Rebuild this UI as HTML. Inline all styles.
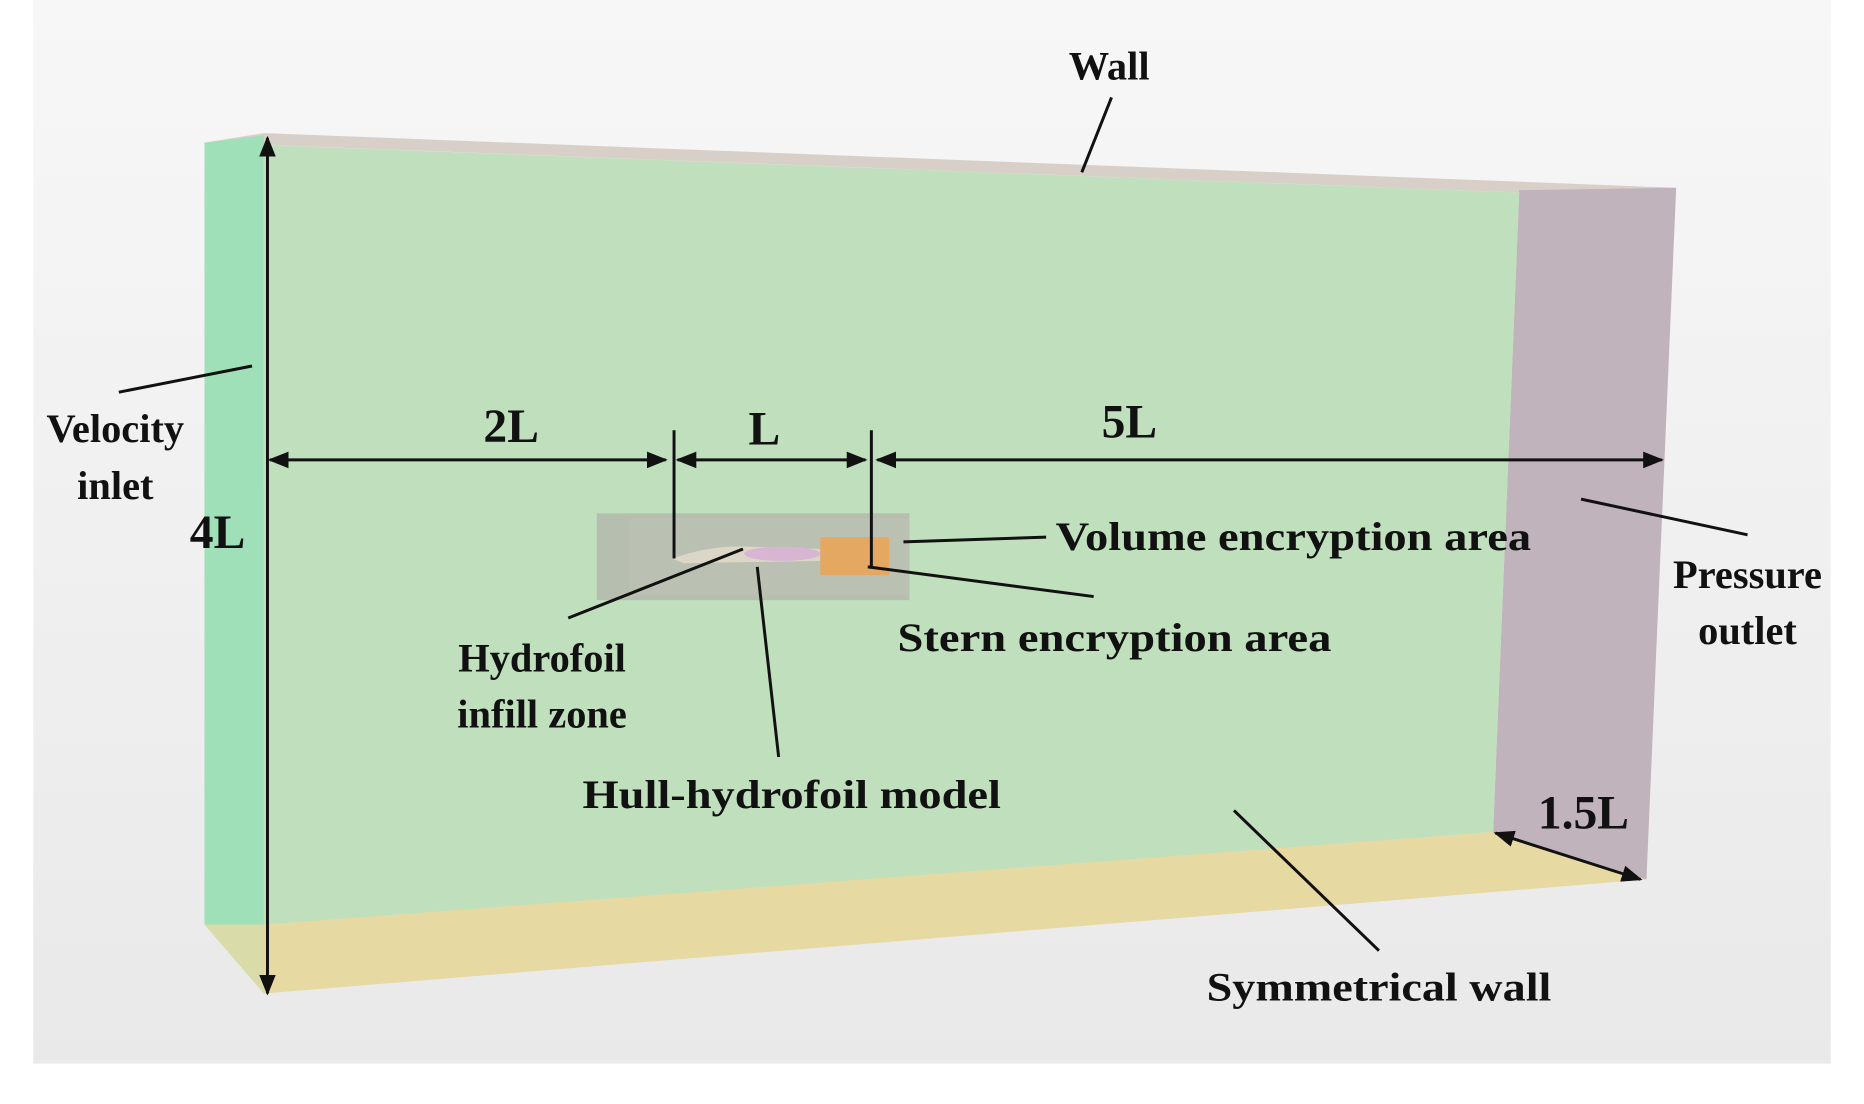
<!DOCTYPE html>
<html><head><meta charset="utf-8"><style>
html,body{margin:0;padding:0;background:#fff;}
svg{display:block;}
text{font-family:"Liberation Serif",serif;font-weight:bold;fill:#111;}
</style></head><body>
<svg width="1864" height="1104" viewBox="0 0 1568 929" preserveAspectRatio="none" xmlns="http://www.w3.org/2000/svg">
<defs>
<linearGradient id="bg" x1="0" y1="0" x2="0" y2="1">
<stop offset="0" stop-color="#f7f7f7"/><stop offset="1" stop-color="#e9e9e9"/>
</linearGradient>
<marker id="ar" viewBox="0 0 10 10" refX="9" refY="5" markerWidth="7" markerHeight="7" orient="auto-start-reverse">
<path d="M0,1 L10,5 L0,9 z" fill="#111"/>
</marker>
</defs>
<rect x="28" y="0" width="1512" height="895" fill="url(#bg)"/>
<!-- top wall -->
<polygon points="172,120 222,112 1410,158 1278,162" fill="#d8cfc8"/>
<!-- outlet -->
<polygon points="1278,160 1410,158 1385,740 1256,700" fill="#c0b3bc"/>
<!-- bottom -->
<polygon points="172,778 1256,700 1385,740 222,836" fill="#e6d9a2"/>
<!-- inlet -->
<polygon points="172,120 222,114 222,778 172,778" fill="#9fe0b9"/>
<polygon points="172,778 222,778 222,836 " fill="#d9dba8"/>
<!-- front -->
<polygon points="222,122 1278,162 1256,700 222,778" fill="#c0dfbd"/>
<!-- inner box -->
<rect x="502" y="432" width="263" height="73" fill="#b5beaf"/>
<rect x="530" y="436" width="235" height="65" fill="#bac1b2"/>
<path d="M565,470 Q600,458 630,460 L690,462 L690,472 L575,474 z" fill="#dcd6c6"/>
<ellipse cx="658" cy="466" rx="32" ry="6" fill="#d7b5d3"/>
<rect x="690" y="452" width="58" height="32" fill="#e5a862"/>
<!-- dimension lines -->
<g stroke="#111" stroke-width="2.5" fill="none">
<line x1="225" y1="116" x2="225" y2="836" marker-start="url(#ar)" marker-end="url(#ar)"/>
<line x1="227" y1="387" x2="560" y2="387" marker-start="url(#ar)" marker-end="url(#ar)"/>
<line x1="570" y1="387" x2="728" y2="387" marker-start="url(#ar)" marker-end="url(#ar)"/>
<line x1="738" y1="387" x2="1398" y2="387" marker-start="url(#ar)" marker-end="url(#ar)"/>
<line x1="567" y1="362" x2="567" y2="470"/>
<line x1="733" y1="362" x2="733" y2="478"/>
<line x1="1258" y1="701" x2="1380" y2="740" marker-start="url(#ar)" marker-end="url(#ar)"/>
<!-- leaders -->
<line x1="935" y1="82" x2="910" y2="145"/>
<line x1="100" y1="330" x2="212" y2="308"/>
<line x1="1330" y1="420" x2="1470" y2="450"/>
<line x1="760" y1="456" x2="880" y2="452"/>
<line x1="730" y1="477" x2="920" y2="502"/>
<line x1="478" y1="520" x2="625" y2="462"/>
<line x1="637" y1="477" x2="655" y2="637"/>
<line x1="1038" y1="682" x2="1160" y2="800"/>
</g>
<g font-size="34">
<text x="933" y="67" text-anchor="middle">Wall</text>
<text x="97" y="372" text-anchor="middle">Velocity</text>
<text x="97" y="420" text-anchor="middle">inlet</text>
<text x="1470" y="495" text-anchor="middle">Pressure</text>
<text x="1470" y="542" text-anchor="middle">outlet</text>
<text x="888" y="463" textLength="400" lengthAdjust="spacingAndGlyphs">Volume encryption area</text>
<text x="755" y="548" textLength="365" lengthAdjust="spacingAndGlyphs">Stern encryption area</text>
<text x="456" y="565" text-anchor="middle">Hydrofoil</text>
<text x="456" y="612" text-anchor="middle">infill zone</text>
<text x="490" y="680" textLength="352" lengthAdjust="spacingAndGlyphs">Hull-hydrofoil model</text>
<text x="1015" y="842" textLength="290" lengthAdjust="spacingAndGlyphs">Symmetrical wall</text>
</g>
<g font-size="40">
<text x="430" y="372" text-anchor="middle">2L</text>
<text x="643" y="374" text-anchor="middle">L</text>
<text x="950" y="368" text-anchor="middle">5L</text>
<text x="183" y="461" text-anchor="middle">4L</text>
<text x="1332" y="697" text-anchor="middle">1.5L</text>
</g>
</svg>
</body></html>
